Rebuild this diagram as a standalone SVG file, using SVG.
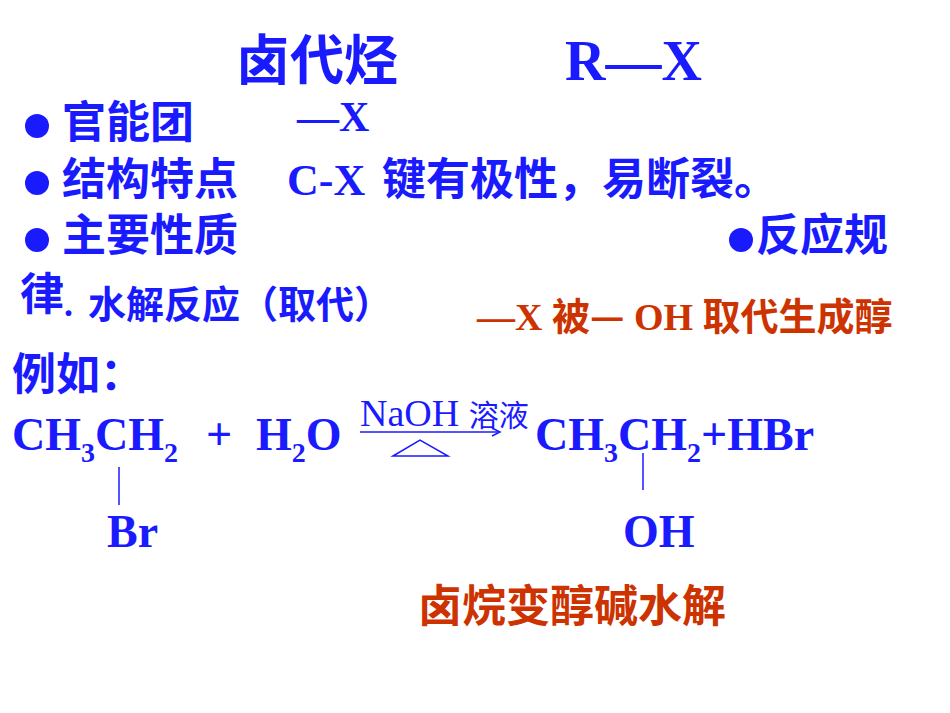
<svg xmlns="http://www.w3.org/2000/svg" width="950" height="713" viewBox="0 0 950 713">
<style>
.b{fill:#1a1aff}
.o{fill:#cc3300}
.c{font-family:"Noto Sans CJK SC","Liberation Sans",sans-serif;font-weight:bold}
.s{font-family:"Liberation Serif","Noto Sans CJK SC",serif;font-weight:bold}
.n{font-family:"Liberation Serif","Noto Sans CJK SC",serif}
</style>
<rect width="950" height="713" fill="#fff"/>
<g id="title">
<text class="b c" x="236" y="80" font-size="54">卤代烃</text>
<text class="b s" x="565" y="80" font-size="56">R—X</text>
</g>
<g id="line1">
<circle class="b" cx="37" cy="126" r="12"/>
<text class="b c" x="62" y="138" font-size="44">官能团</text>
<text class="b s" x="297" y="131" font-size="42">—X</text>
</g>
<g id="line2">
<circle class="b" cx="37" cy="183" r="12"/>
<text class="b c" x="62" y="195" font-size="44">结构特点</text>
<text class="b s" x="287" y="195" font-size="44">C-X</text>
<text class="b c" x="382" y="195" font-size="44">键有极性，易断裂。</text>
</g>
<g id="line3">
<circle class="b" cx="37" cy="240" r="12"/>
<text class="b c" x="62" y="251" font-size="44">主要性质</text>
<circle class="b" cx="741" cy="240" r="12"/>
<text class="b c" x="756" y="251" font-size="44">反应规</text>
</g>
<g id="line4">
<text class="b c" x="20" y="310" font-size="44">律</text>
<text class="b s" x="64" y="316" font-size="36">.</text>
<text class="b c" x="88" y="318" font-size="38">水解反应（取代）</text>
<text class="o s" x="477" y="330" font-size="38">—X <tspan class="c">被—</tspan> OH <tspan class="c">取代生成醇</tspan></text>
</g>
<g id="example">
<text class="b c" x="12" y="390" font-size="44">例如：</text>
<text class="b s" x="12" y="450" font-size="46">CH<tspan font-size="28" dy="12">3</tspan><tspan dy="-12">CH</tspan><tspan font-size="28" dy="12">2</tspan></text>
<text class="b s" x="206" y="450" font-size="46">+</text>
<text class="b s" x="256" y="450" font-size="46">H<tspan font-size="28" dy="12">2</tspan><tspan dy="-12">O</tspan></text>
<text class="b n" x="360" y="426" font-size="38">NaOH <tspan font-family="Noto Sans CJK SC,sans-serif" font-size="30">溶液</tspan></text>
<text class="b s" x="535" y="450" font-size="46">CH<tspan font-size="28" dy="12">3</tspan><tspan dy="-12">CH</tspan><tspan font-size="28" dy="12">2</tspan><tspan dy="-12">+HBr</tspan></text>
<text class="b s" x="107" y="547" font-size="46">Br</text>
<text class="b s" x="623" y="547" font-size="46">OH</text>
</g>
<g id="connectors" stroke="#1a1aff" fill="none" stroke-width="1.5">
<line x1="360" y1="432" x2="498" y2="432"/>
<path d="M492,428 L500,432 L492,436" />
<path d="M393,456 L420,440 L448,456 Z"/>
<line x1="119" y1="467" x2="119" y2="505"/>
<line x1="643" y1="453" x2="643" y2="490"/>
</g>
<g id="footer">
<text class="o c" x="418" y="622" font-size="44">卤烷变醇碱水解</text>
</g>
</svg>
